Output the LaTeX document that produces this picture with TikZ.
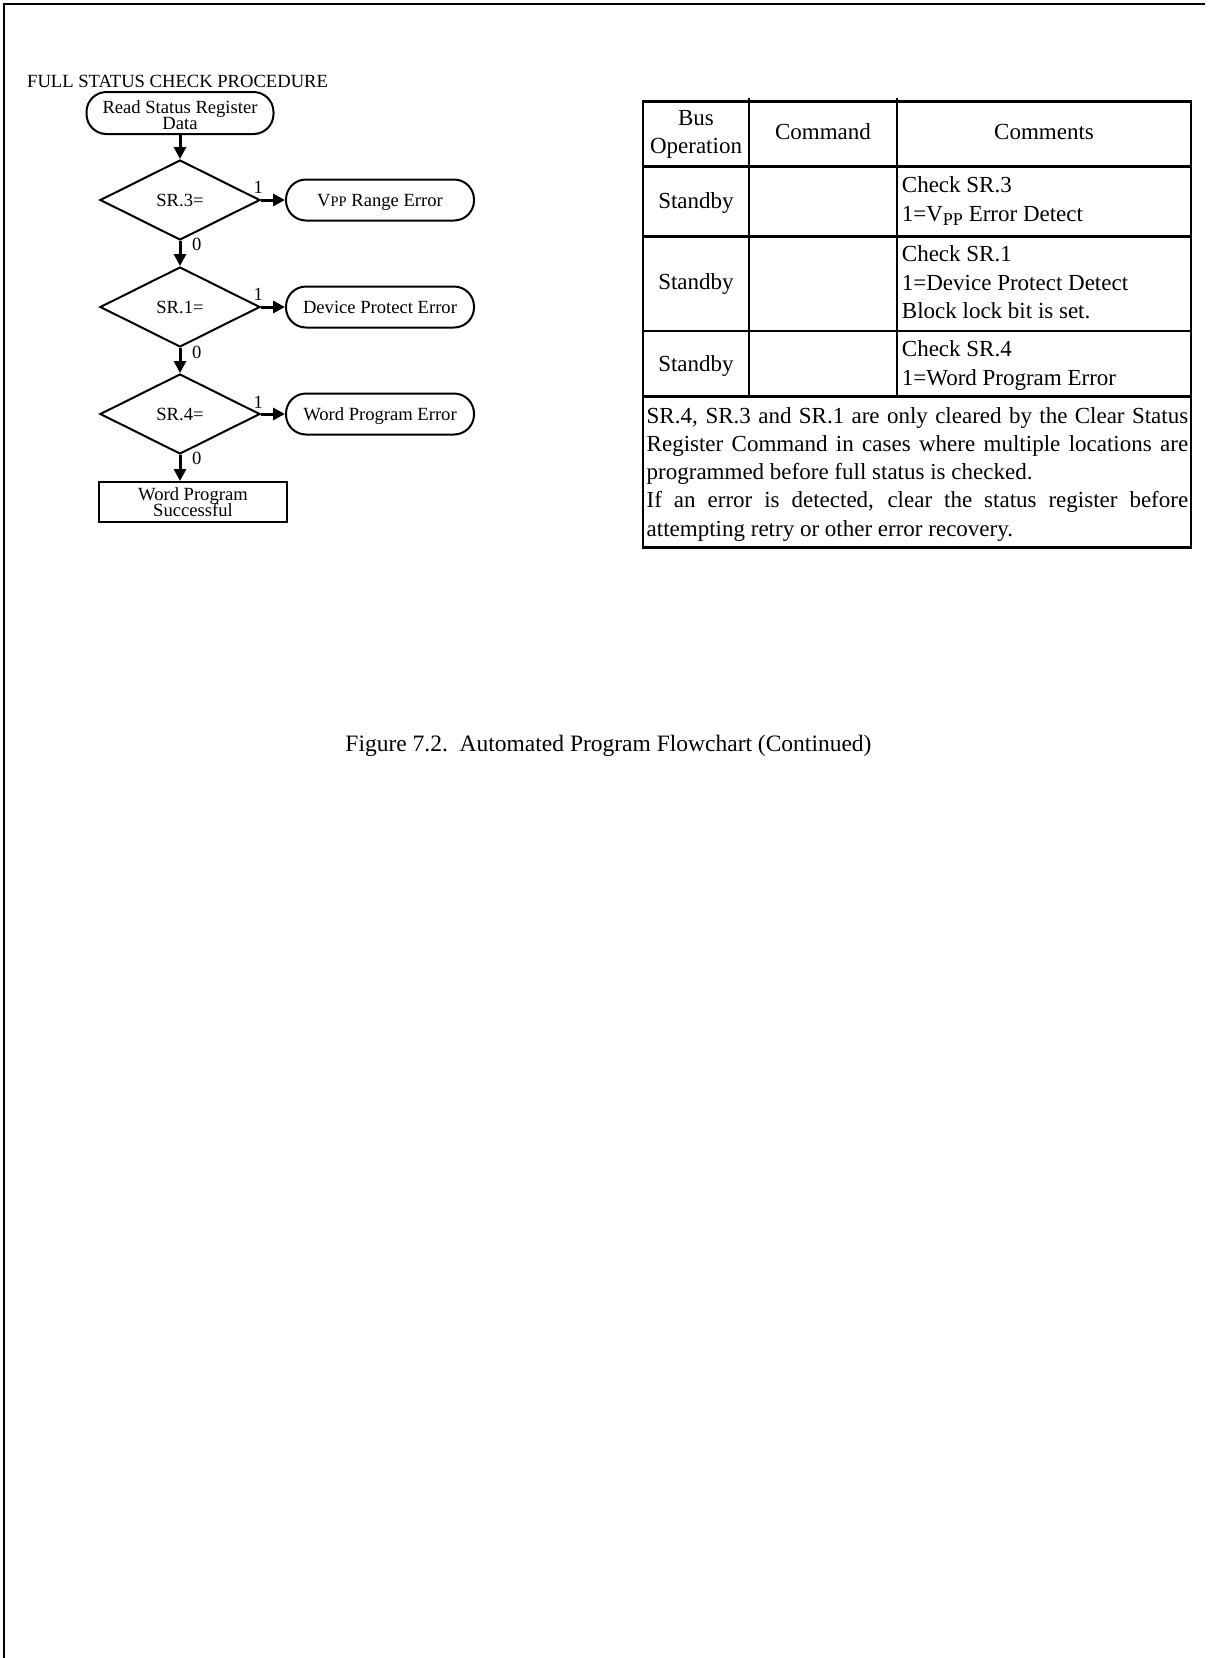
\documentclass[tikz,border=0pt]{standalone}
\usepackage{fontspec}
\setmainfont{Liberation Serif}
\usetikzlibrary{shapes.geometric,arrows.meta}
\begin{document}
\begin{tikzpicture}[x=1pt,y=-1pt,
  fc/.style={font=\fontsize{18.6}{16}\selectfont},
  tb/.style={font=\fontsize{23}{27}\selectfont},
  term/.style={draw,line width=2pt,rounded corners=20pt,minimum width=188pt,minimum height=41pt,inner sep=0pt,align=center,fc},
  errbox/.style={term,text height=12.5pt,text depth=0pt},
  dec/.style={draw,line width=2pt,diamond,aspect=2,minimum width=160pt,minimum height=80pt,inner sep=0pt,fc},
  proc/.style={draw,line width=2pt,rectangle,minimum width=188pt,minimum height=40pt,inner sep=0pt,align=center,fc},
  flow/.style={line width=3pt,-{Triangle[length=12pt,width=12pt]}},
  lbl/.style={anchor=base,inner sep=0pt,fc},
  tline/.style={line width=2.5pt},
  ttext/.style={anchor=base,inner sep=0pt,tb},
  ctext/.style={anchor=base west,inner sep=0pt,tb},
]
\lineskiplimit=-50pt\relax
\useasboundingbox (0,0) rectangle (1211,1658);
% page border (top and left)
\draw[line width=2.5pt] (4,1660) -- (4,4) -- (1205,4);

% ---- flowchart ----
\node[fc,anchor=base west,inner sep=0pt] (title) at (27,87.3) {FULL STATUS CHECK PROCEDURE};
\node[term,minimum width=187pt,minimum height=42pt] (start) at (180,113) {\rule{0pt}{18pt}Read Status Register\\Data};
\node[dec] (d1) at (180,200) {SR.3=};
\node[dec] (d2) at (180,307) {SR.1=};
\node[dec] (d3) at (180,414) {SR.4=};
\node[errbox] (e1) at (380,200) {V{\fontsize{14.5}{15}\selectfont PP} Range Error};
\node[errbox] (e2) at (380,307) {Device Protect Error};
\node[errbox] (e3) at (380,414) {Word Program Error};
\node[proc] (ok) at (193,502) {Word Program\\Successful};

\draw[flow] (start) -- (d1);
\draw[flow] (d1) -- (d2);
\draw[flow] (d2) -- (d3);
\draw[flow] (d3.south) -- (d3.south |- ok.north);
\draw[flow] (d1) -- (e1);
\draw[flow] (d2) -- (e2);
\draw[flow] (d3) -- (e3);

\node[lbl] (one1) at (258.3,193.3) {1};
\node[lbl] (one2) at (258.3,300.7) {1};
\node[lbl] (one3) at (258.3,408.3) {1};
\node[lbl] (zero1) at (196.7,250.7) {0};
\node[lbl] (zero2) at (196.7,358.3) {0};
\node[lbl] (zero3) at (196.7,464) {0};

% ---- table ----
\draw[tline] (643,101.5) rectangle (1191,547.5);
\draw[tline] (643,166.5) -- (1191,166.5);
\draw[tline] (643,236.5) -- (1191,236.5);
\draw[tline] (643,331) -- (1191,331);
\draw[tline] (643,396.5) -- (1191,396.5);
\draw[tline] (749,98) -- (749,396.5);
\draw[tline] (897,98) -- (897,396.5);

\node[ttext] (h1a) at (696,125) {Bus};
\node[ttext] (h1b) at (696,153.3) {Operation};
\node[ttext] (h2) at (823,139.3) {Command};
\node[ttext] (h3) at (1044,139.3) {Comments};
\node[ttext] (s1) at (696,208.3) {Standby};
\node[ttext] (s2) at (696,289.3) {Standby};
\node[ttext] (s3) at (696,371) {Standby};

\node[ctext] (c1a) at (901.7,192.3) {Check SR.3};
\node[ctext] (c1b) at (901.7,221.7) {1=V\raisebox{-3.3pt}{\fontsize{18}{18}\selectfont PP} Error Detect};
\node[ctext] (c2a) at (901.7,261.7) {Check SR.1};
\node[ctext] (c2b) at (901.7,290) {1=Device Protect Detect};
\node[ctext] (c2c) at (901.7,318.3) {Block lock bit is set.};
\node[ctext] (c3a) at (901.7,356) {Check SR.4};
\node[ctext] (c3b) at (901.7,385) {1=Word Program Error};

\node[ctext] (n1) at (646.5,423.3) {\makebox[541.5pt][s]{SR.4, SR.3 and SR.1 are only cleared by the Clear Status}};
\node[ctext] (n2) at (646.5,451.7) {\makebox[541.5pt][s]{Register Command in cases where multiple locations are}};
\node[ctext] (n3) at (646.5,479.3) {programmed before full status is checked.};
\node[ctext] (n4) at (646.5,507.7) {\makebox[541.5pt][s]{If an error is detected, clear the status register before}};
\node[ctext] (n5) at (646.5,536) {attempting retry or other error recovery.};

% ---- caption ----
\node[anchor=base,inner sep=0pt,font=\fontsize{23.5}{28}\selectfont] (cap) at (608.5,751.5) {Figure 7.2.\ \ Automated Program Flowchart (Continued)};
\end{tikzpicture}
\end{document}
